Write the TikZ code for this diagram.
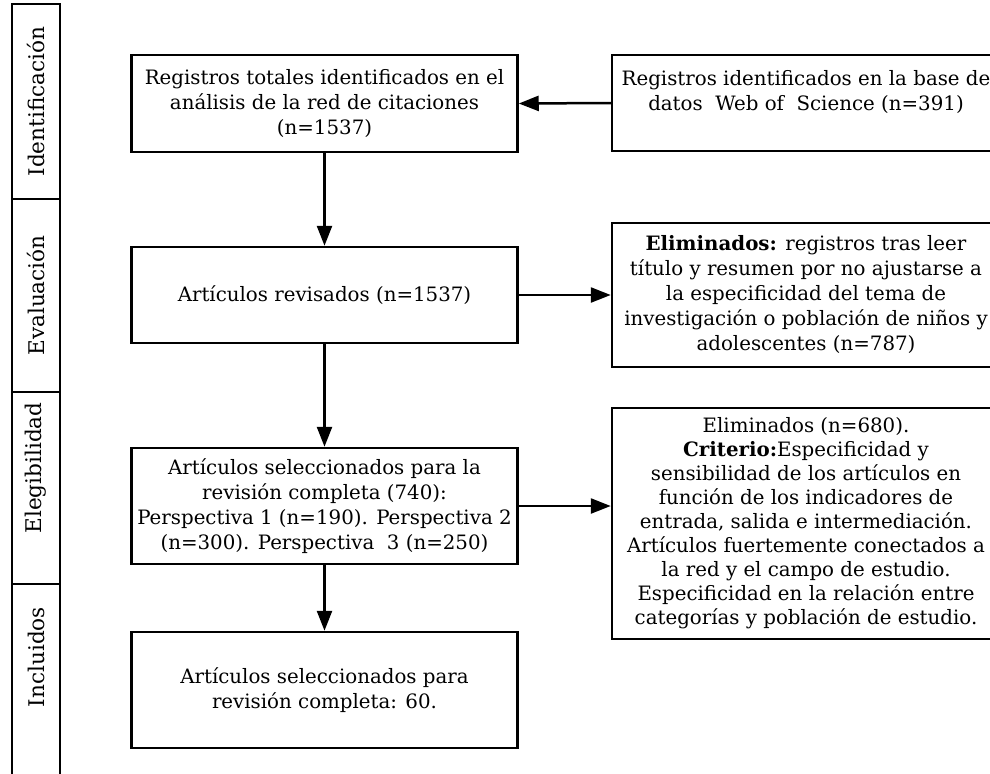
\documentclass[tikz,border=0pt]{standalone}
\usepackage{fontspec}
\setmainfont{DejaVu Serif}
\usetikzlibrary{arrows.meta,positioning}

\begin{document}
\begin{tikzpicture}[x=0.5pt, y=-0.5pt,
          box/.style={rectangle, draw, line width=1.25pt, align=center, inner sep=2pt, font=\fontsize{9.9}{12.5}\selectfont},
          stage/.style={rectangle, draw, line width=1.25pt, rotate=90, minimum height=24pt, inner sep=0pt, font=\fontsize{10.8}{12}\selectfont},
          flow/.style={line width=1.25pt, -{Triangle[length=10pt, width=7.5pt]}}
        ]
          \useasboundingbox (0,0) rectangle (990,773);
          % fases
          \node[stage, minimum width=97.5pt] (ident) at (36,101.5) {Identificación};
          \node[stage, minimum width=96.5pt] (eval) at (36,295.5) {Evaluación};
          \node[stage, minimum width=96pt] (elig) at (36,488) {\hspace*{20pt}Elegibilidad};
          \draw[line width=1.25pt] (12,800) -- (12,584) -- (60,584) -- (60,800);
          \node[font=\fontsize{10.8}{12}\selectfont, rotate=90] (incl) at (36,657) {Incluidos};
          % columna principal
          \node[box, minimum width=193pt, minimum height=48.5pt] (total) at (324.5,103.5) {Registros totales identificados en el\\análisis de la red de citaciones\\(n=1537)};
          \node[box, minimum width=193pt, minimum height=48pt] (revis) at (324.5,295) {Artículos revisados (n=1537)};
          \node[box, minimum width=193pt, minimum height=58pt] (selec) at (324.5,506) {Artículos seleccionados para la\\revisión completa (740):\\Perspectiva 1 (n=190). Perspectiva 2\\(n=300). Perspectiva~~3 (n=250)};
          \node[box, minimum width=193pt, minimum height=58pt] (final) at (324.5,690) {Artículos seleccionados para\\revisión completa: 60.};
          % columna derecha
          \node[box, minimum width=194pt, minimum height=48pt] (wos) at (806,103) {Registros identificados en la base de\\datos~~Web of~~Science (n=391)\\\mbox{}};
          \node[box, minimum width=194pt, minimum height=72pt] (elim) at (806,295) {\textbf{Eliminados:} registros tras leer\\título y resumen por no ajustarse a\\la especificidad del tema de\\investigación o población de niños y\\adolescentes (n=787)};
          \node[box, minimum width=194pt, minimum height=115.5pt, font=\fontsize{9.9}{12}\selectfont] (crit) at (806,523.5) {Eliminados (n=680).\\\textbf{Criterio:}Especificidad y\\sensibilidad de los artículos en\\función de los indicadores de\\entrada, salida e intermediación.\\Artículos fuertemente conectados a\\la red y el campo de estudio.\\Especificidad en la relación entre\\categorías y población de estudio.};
          % flechas
          \draw[flow] (wos.west) -- (total.east);
          \draw[flow] (total) -- (revis);
          \draw[flow] (revis) -- (selec);
          \draw[flow] (selec) -- (final);
          \draw[flow] (revis.east) -- (revis.east -| elim.west);
          \draw[flow] (selec.east) -- (selec.east -| crit.west);
        \end{tikzpicture}
\end{document}
